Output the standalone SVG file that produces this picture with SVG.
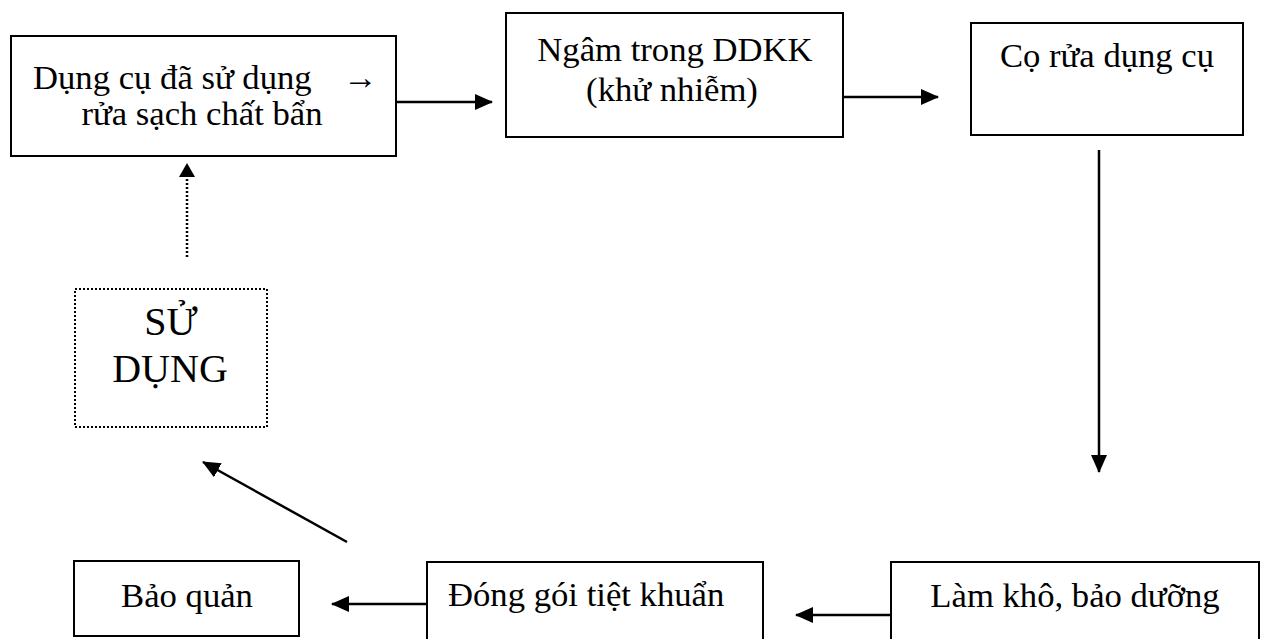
<svg xmlns="http://www.w3.org/2000/svg" width="1265" height="639" viewBox="0 0 1265 639">
<style>
.box{fill:#fff;stroke:#000;stroke-width:2}
.dot{fill:#fff;stroke:#000;stroke-width:2;stroke-dasharray:2 2}
.t{font-family:"Liberation Serif","Times New Roman",serif;font-size:34.67px;fill:#000}
.big{font-size:40px}
.c{stroke:#000;stroke-width:2.5;fill:none}
</style>
<defs>
<marker id="ah" viewBox="0 0 18 16" refX="17" refY="8" markerWidth="18" markerHeight="16" orient="auto" markerUnits="userSpaceOnUse">
<path d="M0,0 L18,8 L0,16 z" fill="#000"/>
</marker>
</defs>
<rect width="1265" height="639" fill="#fff"/>
<g id="n1">
<rect class="box" x="11" y="36" width="385" height="120"/>
<text class="t" x="33" y="89">Dụng cụ đã sử dụng</text>
<text class="t" x="343" y="89">→</text>
<text class="t" x="202" y="125" text-anchor="middle">rửa sạch chất bẩn</text>
</g>
<g id="n2">
<rect class="box" x="506" y="13" width="337" height="124"/>
<text class="t" x="675" y="61" text-anchor="middle">Ngâm trong DDKK</text>
<text class="t" x="672" y="101" text-anchor="middle">(khử nhiễm)</text>
</g>
<g id="n3">
<rect class="box" x="971" y="23" width="272" height="112"/>
<text class="t" x="1107" y="67" text-anchor="middle">Cọ rửa dụng cụ</text>
</g>
<g id="n4">
<rect class="dot" x="75" y="289" width="192" height="138"/>
<text class="t big" x="171" y="335" text-anchor="middle">SỬ</text>
<text class="t big" x="170" y="382" text-anchor="middle">DỤNG</text>
</g>
<g id="n5">
<rect class="box" x="74" y="561" width="225" height="75"/>
<text class="t" x="187" y="607" text-anchor="middle">Bảo quản</text>
</g>
<g id="n6">
<rect class="box" x="427" y="562" width="336" height="90"/>
<text class="t" x="448" y="606">Đóng gói tiệt khuẩn</text>
</g>
<g id="n7">
<rect class="box" x="891" y="562" width="368" height="90"/>
<text class="t" x="1075" y="607" text-anchor="middle">Làm khô, bảo dưỡng</text>
</g>
<g id="connectors">
<line class="c" x1="396" y1="102" x2="492" y2="102" marker-end="url(#ah)"/>
<line class="c" x1="843" y1="97" x2="938" y2="97" marker-end="url(#ah)"/>
<line class="c" x1="1099" y1="150" x2="1099" y2="472" marker-end="url(#ah)"/>
<line class="c" x1="891" y1="615" x2="796" y2="615" marker-end="url(#ah)"/>
<line class="c" x1="427" y1="604" x2="332" y2="604" marker-end="url(#ah)"/>
<line class="c" x1="347" y1="542" x2="203" y2="462" marker-end="url(#ah)"/>
<line class="c" x1="187" y1="257" x2="187" y2="177" stroke-dasharray="2 2"/>
<path d="M187,163 L195,177 L179,177 z" fill="#000"/>
</g>
</svg>
